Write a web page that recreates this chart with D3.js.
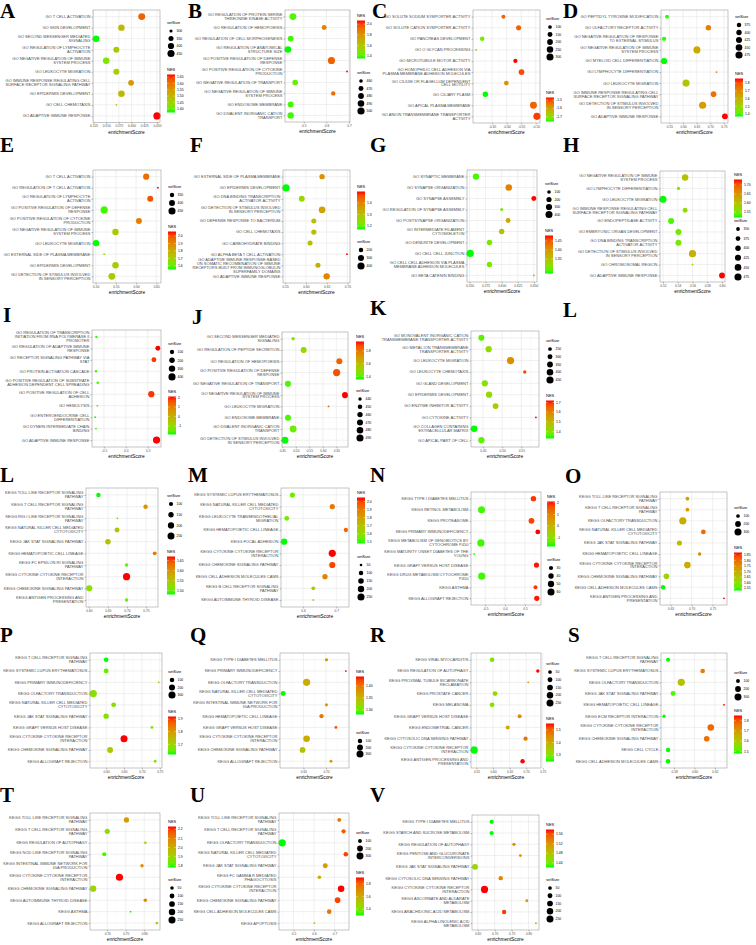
<!DOCTYPE html>
<html><head><meta charset="utf-8">
<script src="https://cdn.jsdelivr.net/npm/d3@7"></script>
<style>body{margin:0;background:#fff}svg{display:block}</style>
</head><body>
<svg id="c" width="756" height="945"></svg>
<script>
// ---------------- DATA ----------------
const termsA=["GO T CELL ACTIVATION","GO SKIN DEVELOPMENT","GO SECOND MESSENGER MEDIATED SIGNALING","GO REGULATION OF LYMPHOCYTE ACTIVATION","GO NEGATIVE REGULATION OF IMMUNE SYSTEM PROCESS","GO LEUKOCYTE MIGRATION","GO IMMUNE RESPONSE REGULATING CELL SURFACE RECEPTOR SIGNALING PATHWAY","GO EPIDERMIS DEVELOPMENT","GO CELL CHEMOTAXIS","GO ADAPTIVE IMMUNE RESPONSE"];
const esA=[0.620,0.580,0.530,0.570,0.550,0.570,0.599,0.580,0.570,0.650];
const nesA=[1.62,1.50,1.37,1.47,1.42,1.46,1.55,1.50,1.47,1.67];
const sizeA=[440,410,420,390,420,390,380,420,290,455];
const xTicksA=["0.525","0.550","0.575","0.600","0.625","0.650"];
const nesBreaksA=["1.40","1.45","1.50","1.55","1.60","1.65"];
const sizeBreaksA=[300,350,400,450];

const termsB=["GO REGULATION OF PROTEIN SERINE THREONINE KINASE ACTIVITY","GO REGULATION OF HEMOPOIESIS","GO REGULATION OF CELL MORPHOGENESIS","GO REGULATION OF ANATOMICAL STRUCTURE SIZE","GO POSITIVE REGULATION OF DEFENSE RESPONSE","GO POSITIVE REGULATION OF CYTOKINE PRODUCTION","GO NEGATIVE REGULATION OF TRANSPORT","GO NEGATIVE REGULATION OF IMMUNE SYSTEM PROCESS","GO ENDOSOME MEMBRANE","GO DIVALENT INORGANIC CATION TRANSPORT"];
const esB=[0.452,0.590,0.442,0.430,0.622,0.691,0.462,0.630,0.442,0.442];
const nesB=[1.40,1.85,1.38,1.35,1.95,2.07,1.42,1.92,1.38,1.38];
const sizeB=[495,470,480,490,500,455,478,465,480,488];
const xTicksB=["0.5","0.6","0.7"];
const nesBreaksB=["1.4","1.6","1.8","2.0"];
const sizeBreaksB=[460,470,480,490,500];

const termsC=["GO SOLUTE SODIUM SYMPORTER ACTIVITY","GO SOLUTE CATION SYMPORTER ACTIVITY","GO PANCREAS DEVELOPMENT","GO O GLYCAN PROCESSING","GO MICROTUBULE MOTOR ACTIVITY","GO HOMOPHILIC CELL ADHESION VIA PLASMA MEMBRANE ADHESION MOLECULES","GO CILIUM OR FLAGELLUM DEPENDENT CELL MOTILITY","GO CILIARY PLASM","GO APICAL PLASMA MEMBRANE","GO ANION TRANSMEMBRANE TRANSPORTER ACTIVITY"];
const esC=[-0.611,-0.559,-0.684,-0.705,-0.570,-0.549,-0.601,-0.673,-0.508,-0.496];
const nesC=[-1.52,-1.52,-1.72,-1.66,-1.47,-1.50,-1.58,-1.76,-1.52,-1.49];
const sizeC=[110,160,130,70,120,200,140,180,290,310];
const xTicksC=["-0.65","-0.60","-0.55","-0.50"];
const nesBreaksC=["-1.7","-1.6","-1.5"];
const sizeBreaksC=[100,150,200,250,300];

const termsD=["GO PEPTIDYL TYROSINE MODIFICATION","GO OLFACTORY RECEPTOR ACTIVITY","GO NEGATIVE REGULATION OF RESPONSE TO EXTERNAL STIMULUS","GO NEGATIVE REGULATION OF IMMUNE SYSTEM PROCESS","GO MYELOID CELL DIFFERENTIATION","GO LYMPHOCYTE DIFFERENTIATION","GO LEUKOCYTE MIGRATION","GO IMMUNE RESPONSE REGULATING CELL SURFACE RECEPTOR SIGNALING PATHWAY","GO DETECTION OF STIMULUS INVOLVED IN SENSORY PERCEPTION","GO ADAPTIVE IMMUNE RESPONSE"];
const esD=[0.541,0.693,0.530,0.651,0.530,0.723,0.611,0.712,0.672,0.754];
const nesD=[1.38,1.72,1.38,1.62,1.37,1.70,1.55,1.75,1.65,1.86];
const sizeD=[360,400,370,470,430,340,470,410,478,420];
const xTicksD=["0.55","0.60","0.65","0.70","0.75"];
const nesBreaksD=["1.4","1.5","1.6","1.7","1.8"];
const sizeBreaksD=[375,400,425,450,475];

const termsE=["GO T CELL ACTIVATION","GO REGULATION OF T CELL ACTIVATION","GO REGULATION OF LYMPHOCYTE ACTIVATION","GO POSITIVE REGULATION OF DEFENSE RESPONSE","GO POSITIVE REGULATION OF CYTOKINE PRODUCTION","GO NEGATIVE REGULATION OF IMMUNE SYSTEM PROCESS","GO LEUKOCYTE MIGRATION","GO EXTERNAL SIDE OF PLASMA MEMBRANE","GO EPIDERMIS DEVELOPMENT","GO DETECTION OF STIMULUS INVOLVED IN SENSORY PERCEPTION"];
const esE=[0.625,0.654,0.635,0.521,0.607,0.549,0.501,0.521,0.549,0.540];
const nesE=[1.95,2.06,2.00,1.57,1.92,1.72,1.55,1.70,1.72,1.72];
const sizeE=[410,320,400,455,400,420,420,320,420,440];
const xTicksE=["0.50","0.55","0.60","0.65"];
const nesBreaksE=["1.6","1.7","1.8","1.9","2.0"];
const sizeBreaksE=[350,400,450];

const termsF=["GO EXTERNAL SIDE OF PLASMA MEMBRANE","GO EPIDERMIS DEVELOPMENT","GO DNA BINDING TRANSCRIPTION ACTIVATOR ACTIVITY","GO DETECTION OF STIMULUS INVOLVED IN SENSORY PERCEPTION","GO DEFENSE RESPONSE TO BACTERIUM","GO CELL CHEMOTAXIS","GO CARBOHYDRATE BINDING","GO ALPHA BETA T CELL ACTIVATION","GO ADAPTIVE IMMUNE RESPONSE BASED ON SOMATIC RECOMBINATION OF IMMUNE RECEPTORS BUILT FROM IMMUNOGLOBULIN SUPERFAMILY DOMAINS","GO ADAPTIVE IMMUNE RESPONSE"];
const esF=[0.639,0.552,0.590,0.639,0.619,0.619,0.610,0.699,0.629,0.650];
const nesF=[1.38,1.17,1.25,1.35,1.30,1.30,1.30,1.50,1.33,1.40];
const sizeF=[250,405,290,350,230,240,230,130,230,330];
const xTicksF=["0.55","0.60","0.65","0.70"];
const nesBreaksF=["1.2","1.3","1.4"];
const sizeBreaksF=[200,300,400];

const termsG=["GO SYNAPTIC MEMBRANE","GO SYNAPSE ORGANIZATION","GO SYNAPSE ASSEMBLY","GO REGULATION OF SYNAPSE ASSEMBLY","GO POSTSYNAPSE ORGANIZATION","GO INTERMEDIATE FILAMENT CYTOSKELETON","GO DENDRITE DEVELOPMENT","GO CELL CELL JUNCTION","GO CELL CELL ADHESION VIA PLASMA MEMBRANE ADHESION MOLECULES","GO BETA CATENIN BINDING"];
const esG=[0.560,0.611,0.650,0.600,0.610,0.600,0.581,0.551,0.581,0.650];
const nesG=[1.28,1.42,1.48,1.30,1.38,1.35,1.30,1.27,1.30,1.38];
const sizeG=[320,330,180,80,180,220,220,420,220,60];
const xTicksG=["0.550","0.575","0.600","0.625","0.650"];
const nesBreaksG=["1.35","1.40","1.45"];
const sizeBreaksG=[100,200,300,400];

const termsH=["GO NEGATIVE REGULATION OF IMMUNE SYSTEM PROCESS","GO LYMPHOCYTE DIFFERENTIATION","GO LEUKOCYTE MIGRATION","GO IMMUNE RESPONSE REGULATING CELL SURFACE RECEPTOR SIGNALING PATHWAY","GO ENDOPEPTIDASE ACTIVITY","GO EMBRYONIC ORGAN DEVELOPMENT","GO DNA BINDING TRANSCRIPTION ACTIVATOR ACTIVITY","GO DETECTION OF STIMULUS INVOLVED IN SENSORY PERCEPTION","GO CHROMOSOMAL REGION","GO ADAPTIVE IMMUNE RESPONSE"];
const esH=[0.550,0.541,0.520,0.550,0.531,0.541,0.541,0.560,0.560,0.600];
const nesH=[1.60,1.55,1.52,1.57,1.53,1.55,1.55,1.62,1.57,1.73];
const sizeH=[440,340,470,380,420,420,420,480,330,420];
const xTicksH=["0.52","0.54","0.56","0.58","0.60"];
const nesBreaksH=["1.55","1.60","1.65","1.70"];
const sizeBreaksH=[350,375,400,425,450,475];

const termsI=["GO REGULATION OF TRANSCRIPTION INITIATION FROM RNA POLYMERASE II PROMOTER","GO REGULATION OF ADAPTIVE IMMUNE RESPONSE","GO RECEPTOR SIGNALING PATHWAY VIA STAT","GO PROTEIN ACTIVATION CASCADE","GO POSITIVE REGULATION OF SUBSTRATE ADHESION DEPENDENT CELL SPREADING","GO POSITIVE REGULATION OF CELL ADHESION","GO HEMOLYSIS","GO ENTEROENDOCRINE CELL DIFFERENTIATION","GO DYNEIN INTERMEDIATE CHAIN BINDING","GO ADAPTIVE IMMUNE RESPONSE"];
const esI=[-0.67,0.73,0.64,-0.68,-0.64,0.58,-0.65,-0.70,-0.68,0.70];
const nesI=[-1.8,2.1,1.9,-1.8,-1.7,1.9,-1.7,-1.9,-1.8,2.1];
const sizeI=[20,150,150,20,25,280,15,15,15,410];
const xTicksI=["-0.5","0.0","0.5"];
const nesBreaksI=["-1","0","1","2"];
const sizeBreaksI=[100,200,300,400];

const termsJ=["GO SECOND MESSENGER MEDIATED SIGNALING","GO REGULATION OF PEPTIDE SECRETION","GO REGULATION OF HEMOPOIESIS","GO POSITIVE REGULATION OF DEFENSE RESPONSE","GO NEGATIVE REGULATION OF TRANSPORT","GO NEGATIVE REGULATION OF IMMUNE SYSTEM PROCESS","GO LEUKOCYTE MIGRATION","GO ENDOSOME MEMBRANE","GO DIVALENT INORGANIC CATION TRANSPORT","GO DETECTION OF STIMULUS INVOLVED IN SENSORY PERCEPTION"];
const esJ=[0.490,0.529,0.661,0.651,0.471,0.682,0.621,0.471,0.490,0.460];
const nesJ=[1.45,1.50,1.85,1.88,1.38,1.95,1.85,1.38,1.42,1.35];
const sizeJ=[440,470,470,492,470,470,435,470,485,485];
const xTicksJ=["0.45","0.50","0.55","0.60","0.65"];
const nesBreaksJ=["1.4","1.6","1.8"];
const sizeBreaksJ=[440,450,460,470,480,490];

const termsK=["GO MONOVALENT INORGANIC CATION TRANSMEMBRANE TRANSPORTER ACTIVITY","GO METAL ION TRANSMEMBRANE TRANSPORTER ACTIVITY","GO LEUKOCYTE MIGRATION","GO LEUKOCYTE CHEMOTAXIS","GO GLAND DEVELOPMENT","GO EPIDERMIS DEVELOPMENT","GO ENZYME INHIBITOR ACTIVITY","GO CYTOKINE ACTIVITY","GO COLLAGEN CONTAINING EXTRACELLULAR MATRIX","GO APICAL PART OF CELL"];
const esK=[0.446,0.465,0.522,0.559,0.455,0.466,0.483,0.588,0.427,0.446];
const nesK=[1.36,1.42,1.58,1.68,1.40,1.42,1.45,1.72,1.33,1.36];
const sizeK=[370,380,455,240,380,380,350,220,400,380];
const xTicksK=["0.45","0.50","0.55"];
const nesBreaksK=["1.4","1.5","1.6","1.7"];
const sizeBreaksK=[250,300,350,400,450];

const termsL2=["KEGG TOLL LIKE RECEPTOR SIGNALING PATHWAY","KEGG T CELL RECEPTOR SIGNALING PATHWAY","KEGG RIG I LIKE RECEPTOR SIGNALING PATHWAY","KEGG NATURAL KILLER CELL MEDIATED CYTOTOXICITY","KEGG JAK STAT SIGNALING PATHWAY","KEGG HEMATOPOIETIC CELL LINEAGE","KEGG FC EPSILON RI SIGNALING PATHWAY","KEGG CYTOKINE CYTOKINE RECEPTOR INTERACTION","KEGG CHEMOKINE SIGNALING PATHWAY","KEGG ANTIGEN PROCESSING AND PRESENTATION"];
const esL2=[0.625,0.749,0.675,0.674,0.650,0.773,0.699,0.699,0.601,0.699];
const nesL2=[1.48,1.60,1.50,1.55,1.55,1.62,1.50,1.67,1.52,1.50];
const sizeL2=[110,110,60,130,160,90,80,265,190,80];
const xTicksL2=["0.60","0.65","0.70","0.75"];
const nesBreaksL2=["1.50","1.55","1.60","1.65"];
const sizeBreaksL2=[100,150,200,250];

const termsM=["KEGG SYSTEMIC LUPUS ERYTHEMATOSUS","KEGG NATURAL KILLER CELL MEDIATED CYTOTOXICITY","KEGG LEUKOCYTE TRANSENDOTHELIAL MIGRATION","KEGG HEMATOPOIETIC CELL LINEAGE","KEGG FOCAL ADHESION","KEGG CYTOKINE CYTOKINE RECEPTOR INTERACTION","KEGG CHEMOKINE SIGNALING PATHWAY","KEGG CELL ADHESION MOLECULES CAMS","KEGG B CELL RECEPTOR SIGNALING PATHWAY","KEGG AUTOIMMUNE THYROID DISEASE"];
const esM=[0.568,0.688,0.551,0.729,0.543,0.688,0.688,0.666,0.631,0.631];
const nesM=[1.55,1.90,1.55,1.95,1.48,2.05,2.00,1.88,1.65,1.65];
const sizeM=[130,130,115,90,190,260,190,135,75,45];
const xTicksM=["0.6","0.7"];
const nesBreaksM=["1.5","1.6","1.7","1.8","1.9","2.0"];
const sizeBreaksM=[50,100,150,200,250];

const termsN=["KEGG TYPE I DIABETES MELLITUS","KEGG RETINOL METABOLISM","KEGG PROTEASOME","KEGG PRIMARY IMMUNODEFICIENCY","KEGG METABOLISM OF XENOBIOTICS BY CYTOCHROME P450","KEGG MATURITY ONSET DIABETES OF THE YOUNG","KEGG GRAFT VERSUS HOST DISEASE","KEGG DRUG METABOLISM CYTOCHROME P450","KEGG ASTHMA","KEGG ALLOGRAFT REJECTION"];
const esN=[0.714,-0.592,0.664,0.824,-0.609,-0.777,0.790,-0.588,0.765,0.798];
const nesN=[1.9,-1.6,1.8,2.1,-1.6,-1.75,2.05,-1.6,1.9,2.05];
const sizeN=[40,60,44,35,62,22,38,62,28,38];
const xTicksN=["-0.5","0.0","0.5"];
const nesBreaksN=["-1","0","1","2"];
const sizeBreaksN=[30,40,50,60];

const termsO=["KEGG TOLL LIKE RECEPTOR SIGNALING PATHWAY","KEGG T CELL RECEPTOR SIGNALING PATHWAY","KEGG OLFACTORY TRANSDUCTION","KEGG NATURAL KILLER CELL MEDIATED CYTOTOXICITY","KEGG JAK STAT SIGNALING PATHWAY","KEGG HEMATOPOIETIC CELL LINEAGE","KEGG CYTOKINE CYTOKINE RECEPTOR INTERACTION","KEGG CHEMOKINE SIGNALING PATHWAY","KEGG CELL ADHESION MOLECULES CAMS","KEGG ANTIGEN PROCESSING AND PRESENTATION"];
const esO=[0.690,0.690,0.679,0.728,0.671,0.719,0.690,0.640,0.632,0.777];
const nesO=[1.72,1.72,1.70,1.80,1.67,1.76,1.70,1.62,1.53,1.87];
const sizeO=[100,100,310,140,160,90,260,190,130,70];
const xTicksO=["0.65","0.70","0.75"];
const nesBreaksO=["1.55","1.60","1.65","1.70","1.75","1.80","1.85"];
const sizeBreaksO=[100,200,300];

const termsP=["KEGG T CELL RECEPTOR SIGNALING PATHWAY","KEGG SYSTEMIC LUPUS ERYTHEMATOSUS","KEGG PRIMARY IMMUNODEFICIENCY","KEGG OLFACTORY TRANSDUCTION","KEGG NATURAL KILLER CELL MEDIATED CYTOTOXICITY","KEGG JAK STAT SIGNALING PATHWAY","KEGG GRAFT VERSUS HOST DISEASE","KEGG CYTOKINE CYTOKINE RECEPTOR INTERACTION","KEGG CHEMOKINE SIGNALING PATHWAY","KEGG ALLOGRAFT REJECTION"];
const esP=[0.600,0.600,0.747,0.564,0.621,0.600,0.728,0.650,0.611,0.737];
const nesP=[1.62,1.65,1.75,1.68,1.68,1.68,1.68,1.92,1.72,1.68];
const sizeP=[110,120,30,310,120,150,40,290,190,40];
const xTicksP=["0.60","0.65","0.70","0.75"];
const nesBreaksP=["1.7","1.8","1.9"];
const sizeBreaksP=[100,200,300];

const termsQ=["KEGG TYPE I DIABETES MELLITUS","KEGG PRIMARY IMMUNODEFICIENCY","KEGG OLFACTORY TRANSDUCTION","KEGG NATURAL KILLER CELL MEDIATED CYTOTOXICITY","KEGG INTESTINAL IMMUNE NETWORK FOR IGA PRODUCTION","KEGG HEMATOPOIETIC CELL LINEAGE","KEGG GRAFT VERSUS HOST DISEASE","KEGG CYTOKINE CYTOKINE RECEPTOR INTERACTION","KEGG CHEMOKINE SIGNALING PATHWAY","KEGG ALLOGRAFT REJECTION"];
const esQ=[0.701,0.744,0.657,0.605,0.701,0.690,0.722,0.657,0.648,0.711];
const nesQ=[1.38,1.44,1.36,1.28,1.38,1.40,1.42,1.36,1.34,1.38];
const sizeQ=[50,30,320,130,45,90,40,260,190,40];
const xTicksQ=["0.65","0.70"];
const nesBreaksQ=["1.30","1.35","1.40"];
const sizeBreaksQ=[100,200,300];

const termsR=["KEGG VIRAL MYOCARDITIS","KEGG REGULATION OF AUTOPHAGY","KEGG PROXIMAL TUBULE BICARBONATE RECLAMATION","KEGG PROSTATE CANCER","KEGG MELANOMA","KEGG GRAFT VERSUS HOST DISEASE","KEGG ENDOMETRIAL CANCER","KEGG CYTOSOLIC DNA SENSING PATHWAY","KEGG CYTOKINE CYTOKINE RECEPTOR INTERACTION","KEGG ANTIGEN PROCESSING AND PRESENTATION"];
const esR=[0.597,0.735,0.706,0.606,0.597,0.680,0.644,0.698,0.543,0.689];
const nesR=[1.30,1.55,1.42,1.32,1.30,1.45,1.40,1.48,1.25,1.55];
const sizeR=[90,40,20,100,90,60,60,70,265,80];
const xTicksR=["0.55","0.60","0.65","0.70","0.75"];
const nesBreaksR=["1.3","1.4","1.5"];
const sizeBreaksR=[50,100,150,200,250];

const termsS=["KEGG T CELL RECEPTOR SIGNALING PATHWAY","KEGG SYSTEMIC LUPUS ERYTHEMATOSUS","KEGG OLFACTORY TRANSDUCTION","KEGG JAK STAT SIGNALING PATHWAY","KEGG HEMATOPOIETIC CELL LINEAGE","KEGG ECM RECEPTOR INTERACTION","KEGG CYTOKINE CYTOKINE RECEPTOR INTERACTION","KEGG CHEMOKINE SIGNALING PATHWAY","KEGG CELL CYCLE","KEGG CELL ADHESION MOLECULES CAMS"];
const esS=[0.574,0.608,0.587,0.579,0.629,0.570,0.616,0.612,0.574,0.574];
const nesS=[1.48,1.75,1.62,1.50,1.85,1.48,1.78,1.77,1.48,1.48];
const sizeS=[110,130,320,150,60,80,260,190,120,130];
const xTicksS=["0.58","0.60","0.62"];
const nesBreaksS=["1.5","1.6","1.7","1.8"];
const sizeBreaksS=[100,200,300];

const termsT=["KEGG TOLL LIKE RECEPTOR SIGNALING PATHWAY","KEGG T CELL RECEPTOR SIGNALING PATHWAY","KEGG REGULATION OF AUTOPHAGY","KEGG NOD LIKE RECEPTOR SIGNALING PATHWAY","KEGG INTESTINAL IMMUNE NETWORK FOR IGA PRODUCTION","KEGG CYTOKINE CYTOKINE RECEPTOR INTERACTION","KEGG CHEMOKINE SIGNALING PATHWAY","KEGG AUTOIMMUNE THYROID DISEASE","KEGG ASTHMA","KEGG ALLOGRAFT REJECTION"];
const esT=[0.752,0.700,0.803,0.692,0.794,0.733,0.662,0.803,0.763,0.834];
const nesT=[2.05,1.88,1.90,1.80,2.08,2.23,1.90,2.08,1.78,1.92];
const sizeT=[120,120,30,70,45,265,190,50,25,30];
const xTicksT=["0.70","0.75","0.80"];
const nesBreaksT=["1.8","1.9","2.0","2.1","2.2"];
const sizeBreaksT=[50,100,150,200,250];

const termsU=["KEGG TOLL LIKE RECEPTOR SIGNALING PATHWAY","KEGG T CELL RECEPTOR SIGNALING PATHWAY","KEGG OLFACTORY TRANSDUCTION","KEGG NATURAL KILLER CELL MEDIATED CYTOTOXICITY","KEGG JAK STAT SIGNALING PATHWAY","KEGG FC GAMMA R MEDIATED PHAGOCYTOSIS","KEGG CYTOKINE CYTOKINE RECEPTOR INTERACTION","KEGG CHEMOKINE SIGNALING PATHWAY","KEGG CELL ADHESION MOLECULES CAMS","KEGG APOPTOSIS"];
const esU=[0.723,0.744,0.445,0.755,0.655,0.626,0.732,0.715,0.674,0.602];
const nesU=[1.75,1.82,1.30,1.85,1.65,1.60,1.90,1.85,1.75,1.60];
const sizeU=[100,110,320,130,150,90,260,190,130,60];
const xTicksU=["0.5","0.6","0.7"];
const nesBreaksU=["1.4","1.6","1.8"];
const sizeBreaksU=[100,200,300];

const termsV=["KEGG TYPE I DIABETES MELLITUS","KEGG STARCH AND SUCROSE METABOLISM","KEGG REGULATION OF AUTOPHAGY","KEGG PENTOSE AND GLUCURONATE INTERCONVERSIONS","KEGG JAK STAT SIGNALING PATHWAY","KEGG CYTOSOLIC DNA SENSING PATHWAY","KEGG CYTOKINE CYTOKINE RECEPTOR INTERACTION","KEGG ASCORBATE AND ALDARATE METABOLISM","KEGG ARACHIDONIC ACID METABOLISM","KEGG ALPHA LINOLENIC ACID METABOLISM"];
const esV=[0.691,0.691,0.757,0.776,0.642,0.718,0.670,0.795,0.728,0.822];
const nesV=[1.42,1.42,1.52,1.52,1.46,1.53,1.58,1.52,1.57,1.50];
const sizeV=[70,70,40,30,160,80,265,30,75,20];
const xTicksV=["0.65","0.70","0.75","0.80"];
const nesBreaksV=["1.44","1.48","1.52","1.56"];
const sizeBreaksV=[50,100,150,200,250];

// ---------------- LAYOUT ----------------
const layout={
 A:{name:"A",letter:[0,18],plot:[93,10,160,122.5],lx:167,sizeT:24,nesT:71},
 B:{name:"B",letter:[188,18],plot:[285,10,350,122],lx:357,nesT:17,sizeT:74},
 C:{name:"C",letter:[372,18],plot:[473,10,540,123],lx:546,sizeT:20,nesT:94,barH:24},
 D:{name:"D",letter:[563,18],plot:[661,10,728,123],lx:735,sizeT:18,nesT:75},
 E:{name:"E",letter:[0,152],plot:[93,170,161,283],lx:168,sizeT:188,nesT:228,ks:8},
 F:{name:"F",letter:[190,152],plot:[283,170,350,283],lx:357,nesT:188,sizeT:243,ks:8},
 G:{name:"G",letter:[370,152],plot:[467,170,537,282],lx:545,sizeT:185,nesT:232},
 H:{name:"H",letter:[563,152],plot:[660,171,725,282],lx:734,nesT:176,sizeT:222,ks:9.6},
 I:{name:"I",letter:[3,322],plot:[92,330,161,447],lx:168,sizeT:345,nesT:393,ks:8.3},
 J:{name:"J",letter:[192,324],plot:[282,332,348,447],lx:356,nesT:338,sizeT:392,ks:7.8},
 K:{name:"K",letter:[370,315],plot:[471,331,539,447],lx:546,sizeT:342,nesT:397,ks:7.75},
 L:{name:"L",letter:[563,317]},
 L2:{name:"L",letter:[0,482],plot:[86,488,158,607],lx:167,sizeT:497,nesT:553,ks:10.7},
 M:{name:"M",letter:[188,482],plot:[281,488,349,607],lx:357,nesT:494,sizeT:558,barH:46,ks:8},
 N:{name:"N",letter:[370,482],plot:[471,492,541,605],lx:547,nesT:498,sizeT:561,barH:45,ks:8},
 O:{name:"O",letter:[565,483],plot:[660,492,727,605],lx:734,sizeT:509,nesT:549,ks:8},
 P:{name:"P",letter:[0,642],plot:[90,653,162,768],lx:168,sizeT:673,nesT:713},
 Q:{name:"Q",letter:[190,642],plot:[280,653,349,768],lx:356,nesT:673,sizeT:734,ks:6.5},
 R:{name:"R",letter:[370,642],plot:[471,653,541,768],lx:546,sizeT:665,nesT:720,ks:7.75},
 S:{name:"S",letter:[568,642],plot:[661,653,727,768],lx:734,sizeT:674,nesT:712,ks:8},
 T:{name:"T",letter:[0,802],plot:[90,813,160,930],lx:168,nesT:823,sizeT:881,barH:41,ks:8},
 U:{name:"U",letter:[190,802],plot:[279,813,349,930],lx:356,sizeT:834,nesT:874},
 V:{name:"V",letter:[370,802],plot:[472,815,539,930],lx:546,nesT:826,sizeT:881,ks:7.75}
};

const data={
 A:{terms:termsA,es:esA,nes:nesA,size:sizeA,xTicks:xTicksA,nesBreaks:nesBreaksA,sizeBreaks:sizeBreaksA},
 B:{terms:termsB,es:esB,nes:nesB,size:sizeB,xTicks:xTicksB,nesBreaks:nesBreaksB,sizeBreaks:sizeBreaksB},
 C:{terms:termsC,es:esC,nes:nesC,size:sizeC,xTicks:xTicksC,nesBreaks:nesBreaksC,sizeBreaks:sizeBreaksC},
 D:{terms:termsD,es:esD,nes:nesD,size:sizeD,xTicks:xTicksD,nesBreaks:nesBreaksD,sizeBreaks:sizeBreaksD},
 E:{terms:termsE,es:esE,nes:nesE,size:sizeE,xTicks:xTicksE,nesBreaks:nesBreaksE,sizeBreaks:sizeBreaksE},
 F:{terms:termsF,es:esF,nes:nesF,size:sizeF,xTicks:xTicksF,nesBreaks:nesBreaksF,sizeBreaks:sizeBreaksF},
 G:{terms:termsG,es:esG,nes:nesG,size:sizeG,xTicks:xTicksG,nesBreaks:nesBreaksG,sizeBreaks:sizeBreaksG},
 H:{terms:termsH,es:esH,nes:nesH,size:sizeH,xTicks:xTicksH,nesBreaks:nesBreaksH,sizeBreaks:sizeBreaksH},
 I:{terms:termsI,es:esI,nes:nesI,size:sizeI,xTicks:xTicksI,nesBreaks:nesBreaksI,sizeBreaks:sizeBreaksI},
 J:{terms:termsJ,es:esJ,nes:nesJ,size:sizeJ,xTicks:xTicksJ,nesBreaks:nesBreaksJ,sizeBreaks:sizeBreaksJ},
 K:{terms:termsK,es:esK,nes:nesK,size:sizeK,xTicks:xTicksK,nesBreaks:nesBreaksK,sizeBreaks:sizeBreaksK},
 L:null,
 L2:{terms:termsL2,es:esL2,nes:nesL2,size:sizeL2,xTicks:xTicksL2,nesBreaks:nesBreaksL2,sizeBreaks:sizeBreaksL2},
 M:{terms:termsM,es:esM,nes:nesM,size:sizeM,xTicks:xTicksM,nesBreaks:nesBreaksM,sizeBreaks:sizeBreaksM},
 N:{terms:termsN,es:esN,nes:nesN,size:sizeN,xTicks:xTicksN,nesBreaks:nesBreaksN,sizeBreaks:sizeBreaksN},
 O:{terms:termsO,es:esO,nes:nesO,size:sizeO,xTicks:xTicksO,nesBreaks:nesBreaksO,sizeBreaks:sizeBreaksO},
 P:{terms:termsP,es:esP,nes:nesP,size:sizeP,xTicks:xTicksP,nesBreaks:nesBreaksP,sizeBreaks:sizeBreaksP},
 Q:{terms:termsQ,es:esQ,nes:nesQ,size:sizeQ,xTicks:xTicksQ,nesBreaks:nesBreaksQ,sizeBreaks:sizeBreaksQ},
 R:{terms:termsR,es:esR,nes:nesR,size:sizeR,xTicks:xTicksR,nesBreaks:nesBreaksR,sizeBreaks:sizeBreaksR},
 S:{terms:termsS,es:esS,nes:nesS,size:sizeS,xTicks:xTicksS,nesBreaks:nesBreaksS,sizeBreaks:sizeBreaksS},
 T:{terms:termsT,es:esT,nes:nesT,size:sizeT,xTicks:xTicksT,nesBreaks:nesBreaksT,sizeBreaks:sizeBreaksT},
 U:{terms:termsU,es:esU,nes:nesU,size:sizeU,xTicks:xTicksU,nesBreaks:nesBreaksU,sizeBreaks:sizeBreaksU},
 V:{terms:termsV,es:esV,nes:nesV,size:sizeV,xTicks:xTicksV,nesBreaks:nesBreaksV,sizeBreaks:sizeBreaksV}
};

// ---------------- DRAWING ----------------
const svg=d3.select("#c");
const defs=svg.append("defs");
const SANS="'Liberation Sans', Arial, Helvetica, sans-serif";
const LAB_FS=4, TICK_FS=3.2, TITLE_FS=4.8, LEG_T_FS=4, LEG_FS=3.4;

function wrap(s,w){
  const words=s.split(" "),lines=[];let cur="";
  for(const wd of words){
    if(!cur)cur=wd;
    else if((cur+" "+wd).length<=w)cur+=" "+wd;
    else{lines.push(cur);cur=wd;}
  }
  if(cur)lines.push(cur);
  return lines;
}

function drawPanel(id){
  const L=layout[id], d=data[id];
  const g=svg.append("g").attr("class","panel-"+id);
  g.append("text").attr("x",L.letter[0]).attr("y",L.letter[1])
   .attr("font-family","'Liberation Serif','Times New Roman',serif").attr("font-weight","bold")
   .attr("font-size",21).attr("fill","#000").text(L.name);
  if(!d)return;
  const [px0,py0,px1,py1]=L.plot;
  const n=d.terms.length;
  const ext=d3.extent(d.es), pad=(ext[1]-ext[0])*0.05;
  const x=d3.scaleLinear().domain([ext[0]-pad,ext[1]+pad]).range([px0,px1]);
  const y=d3.scalePoint().domain(d3.range(n)).range([py0,py1]).padding(0.6);
  const nesExt=d3.extent(d.nes);
  const col=d3.scaleLinear().domain(nesExt).range(["#00ff00","#ff0000"]).interpolate(d3.interpolateLab);
  const sExt=d3.extent(d.size);
  const rad=v=>0.9+2.7*Math.sqrt(Math.max(0,Math.min(1,(v-sExt[0])/(sExt[1]-sExt[0]))));

  g.append("rect").attr("x",px0).attr("y",py0).attr("width",px1-px0).attr("height",py1-py0).attr("fill","#fff");
  const ticks=d.xTicks.map(Number);
  const stepT=ticks[1]-ticks[0];
  const dom=x.domain();
  const minor=[];
  for(let v=ticks[0]-stepT/2; v<=dom[1]; v+=stepT){ if(v>=dom[0]) minor.push(v); }
  g.append("g").selectAll("line").data(minor).join("line")
   .attr("x1",v=>x(v)).attr("x2",v=>x(v)).attr("y1",py0).attr("y2",py1)
   .attr("stroke","#f2f2f2").attr("stroke-width",0.35);
  g.append("g").selectAll("line").data(ticks).join("line")
   .attr("x1",v=>x(v)).attr("x2",v=>x(v)).attr("y1",py0).attr("y2",py1)
   .attr("stroke","#e6e6e6").attr("stroke-width",0.6);
  g.append("g").selectAll("line").data(d3.range(n)).join("line")
   .attr("x1",px0).attr("x2",px1).attr("y1",i=>y(i)).attr("y2",i=>y(i))
   .attr("stroke","#e6e6e6").attr("stroke-width",0.6);

  g.append("g").selectAll("circle").data(d3.range(n)).join("circle")
   .attr("cx",i=>x(d.es[i])).attr("cy",i=>y(i)).attr("r",i=>rad(d.size[i]))
   .attr("fill",i=>col(d.nes[i]));

  g.append("rect").attr("x",px0).attr("y",py0).attr("width",px1-px0).attr("height",py1-py0)
   .attr("fill","none").attr("stroke","#8a8a8a").attr("stroke-width",0.5);

  const xa=g.append("g").attr("transform",`translate(0,${py1})`)
   .call(d3.axisBottom(x).tickValues(ticks).tickFormat((v,i)=>d.xTicks[i]).tickSize(1.5).tickSizeOuter(0).tickPadding(0.9));
  xa.select(".domain").remove();
  xa.selectAll(".tick line").attr("stroke","#555").attr("stroke-width",0.4);
  xa.selectAll(".tick text").attr("font-size",TICK_FS).attr("font-family",SANS).attr("fill","#4d4d4d");
  g.append("text").attr("x",(px0+px1)/2).attr("y",py1+11).attr("text-anchor","middle")
   .attr("font-size",TITLE_FS).attr("font-family",SANS).attr("fill","#000").text("enrichmentScore");

  const ya=g.append("g").attr("transform",`translate(${px0},0)`)
   .call(d3.axisLeft(y).tickSize(1.5).tickFormat(()=>""));
  ya.select(".domain").remove();
  ya.selectAll(".tick line").attr("stroke","#555").attr("stroke-width",0.4);
  ya.selectAll(".tick text").remove();
  const lh=3.9;
  d.terms.forEach((t,i)=>{
    const lines=wrap(t,35);
    const txt=g.append("text").attr("text-anchor","end").attr("font-size",LAB_FS)
      .attr("font-family",SANS).attr("fill","#4d4d4d");
    const y0=y(i)-(lines.length-1)*lh/2+1.4;
    lines.forEach((ln,k)=>txt.append("tspan").attr("x",px0-2.6).attr("y",y0+k*lh).text(ln));
  });

  const lx=L.lx;
  const ks=L.ks||7.5;
  const sg=g.append("g");
  sg.append("text").attr("x",lx).attr("y",L.sizeT).attr("font-size",LEG_T_FS).attr("font-family",SANS).text("setSize");
  d.sizeBreaks.forEach((v,k)=>{
    const cy=L.sizeT+7+k*ks;
    sg.append("circle").attr("cx",lx+4).attr("cy",cy).attr("r",rad(v)).attr("fill","#000");
    sg.append("text").attr("x",lx+9.5).attr("y",cy+1.2).attr("font-size",LEG_FS).attr("font-family",SANS).text(v);
  });
  const barH=L.barH||38, barW=8, bt=L.nesT+3.5;
  const gid="grad"+id;
  const gr=defs.append("linearGradient").attr("id",gid).attr("x1",0).attr("y1",1).attr("x2",0).attr("y2",0);
  d3.range(0,1.0001,0.1).forEach(t=>gr.append("stop").attr("offset",t).attr("stop-color",col(nesExt[0]+t*(nesExt[1]-nesExt[0]))));
  const cg=g.append("g");
  cg.append("text").attr("x",lx).attr("y",L.nesT).attr("font-size",LEG_T_FS).attr("font-family",SANS).text("NES");
  cg.append("rect").attr("x",lx).attr("y",bt).attr("width",barW).attr("height",barH).attr("fill",`url(#${gid})`);
  const cb=d3.scaleLinear().domain(nesExt).range([bt+barH,bt]);
  d.nesBreaks.forEach(s=>{
    const v=+s, yy=cb(v);
    cg.append("line").attr("x1",lx).attr("x2",lx+1.6).attr("y1",yy).attr("y2",yy).attr("stroke","#fff").attr("stroke-width",0.4);
    cg.append("line").attr("x1",lx+barW-1.6).attr("x2",lx+barW).attr("y1",yy).attr("y2",yy).attr("stroke","#fff").attr("stroke-width",0.4);
    cg.append("text").attr("x",lx+barW+2).attr("y",yy+1.2).attr("font-size",LEG_FS).attr("font-family",SANS).text(s);
  });
}

Object.keys(layout).forEach(drawPanel);
</script>
</body></html>
